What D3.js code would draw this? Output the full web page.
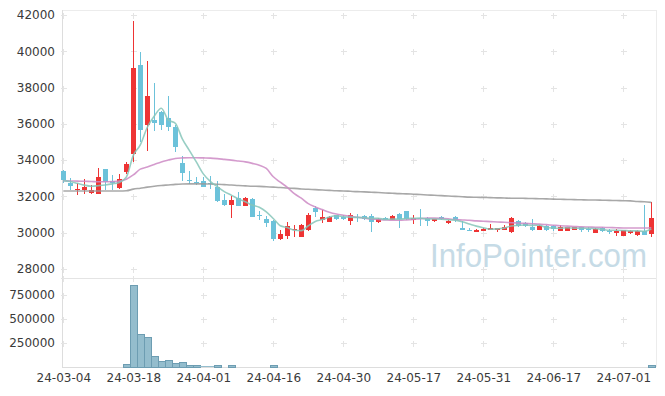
<!DOCTYPE html>
<html>
<head>
<meta charset="utf-8">
<script src="https://cdn.jsdelivr.net/npm/d3@7"></script>
<style>
  body { margin: 0; background: #fff; }
  text { font-family: "DejaVu Sans", sans-serif; }
</style>
</head>
<body>
<svg id="chart"></svg>
<script>
// trading days (KRX), 24-03-04 .. 24-07-05
const dates = [
  '24-03-04','24-03-05','24-03-06','24-03-07','24-03-08','24-03-11','24-03-12','24-03-13','24-03-14','24-03-15',
  '24-03-18','24-03-19','24-03-20','24-03-21','24-03-22','24-03-25','24-03-26','24-03-27','24-03-28','24-03-29',
  '24-04-01','24-04-02','24-04-03','24-04-04','24-04-05','24-04-08','24-04-09','24-04-11','24-04-12','24-04-15',
  '24-04-16','24-04-17','24-04-18','24-04-19','24-04-22','24-04-23','24-04-24','24-04-25','24-04-26','24-04-29',
  '24-04-30','24-05-02','24-05-03','24-05-07','24-05-08','24-05-09','24-05-10','24-05-13','24-05-14','24-05-16',
  '24-05-17','24-05-20','24-05-21','24-05-22','24-05-23','24-05-24','24-05-27','24-05-28','24-05-29','24-05-30',
  '24-05-31','24-06-03','24-06-04','24-06-05','24-06-07','24-06-10','24-06-11','24-06-12','24-06-13','24-06-14',
  '24-06-17','24-06-18','24-06-19','24-06-20','24-06-21','24-06-24','24-06-25','24-06-26','24-06-27','24-06-28',
  '24-07-01','24-07-02','24-07-03','24-07-04','24-07-05'
];

const openP = [
  33400,32760,32330,32370,32200,32150,33490,32870,32480,33330,
  34320,39240,35920,36210,36650,36300,35830,33860,32920,32800,
  32870,32750,32530,31800,31540,31890,31490,31840,31000,30750,
  30640,29650,29830,30150,29780,30150,31340,30720,30610,30990,
  30860,30630,30880,30900,30900,30570,30820,30710,31030,31200,
  30680,30800,30790,30660,30880,30550,30850,30270,30160,30050,
  30110,30150,30140,30150,30020,30640,30510,30290,30150,30380,
  30380,30090,30090,30170,30290,30220,30000,30270,30070,30000,
  29830,29960,29890,30110,29910
];
const highP = [
  33450,33000,32750,32950,32600,33550,33500,33200,33220,33880,
  41650,39950,39450,38230,36700,37530,35950,34200,33400,33050,
  33050,33100,32870,32120,32040,32230,31950,31900,31170,30920,
  30700,30150,30570,30420,30450,31080,31470,31250,30900,31000,
  30950,31070,31020,31000,31030,30800,30850,30980,31080,31200,
  30970,31290,30850,30780,30920,30700,30900,30640,30240,30180,
  30250,30460,30280,30400,30880,30700,30560,30750,30420,30400,
  30420,30400,30300,30300,30330,30300,30230,30300,30200,30220,
  30170,30150,30150,31530,31710
];
const lowP = [
  32750,32350,32080,32120,32080,32100,32350,32380,32380,33220,
  33900,35000,34500,35600,35650,35620,34460,32800,32660,32600,
  32510,32400,31700,31480,30850,31480,31430,30880,30700,30300,
  29560,29600,29650,29750,29750,30100,30880,30550,30580,30750,
  30700,30420,30600,30700,30050,30530,30680,30680,30280,30720,
  30460,30330,30330,30600,30700,30460,30580,30150,30060,30020,
  30080,30130,30050,30130,30000,30300,30300,30100,30130,30050,
  30100,30060,30060,30140,30050,30050,29980,30050,29910,29850,
  29820,29940,29800,29850,29780
];
const closeP = [
  32900,32590,32420,32520,32350,33060,32780,32720,32950,33790,
  39080,35680,37530,36060,35960,35840,34740,33270,32880,32760,
  32540,32700,31770,31540,31800,31490,31890,30880,30950,30520,
  29640,29930,30370,30190,30420,30970,31150,30880,30860,30770,
  30740,30990,30840,30780,30570,30770,30710,30900,30770,30770,
  30800,30770,30640,30750,30740,30660,30680,30160,30140,30170,
  30220,30270,30260,30330,30790,30360,30370,30150,30380,30150,
  30220,30290,30290,30290,30130,30190,30200,30110,30040,30110,
  30150,30110,30110,29870,30830
];
const volume = [
  800,600,900,700,500,5000,1200,4500,1500,23000,
  844000,337000,306000,110000,58000,68000,37000,47000,16000,16000,
  6000,6000,15000,4000,15000,4000,4000,4000,4000,4000,
  12000,900,1100,800,700,900,1000,600,800,700,
  900,800,600,700,1000,800,700,900,600,800,
  700,900,800,600,700,800,900,5000,700,800,
  600,900,700,800,1000,700,800,600,900,700,
  800,700,900,600,800,700,900,800,700,600,
  900,800,700,1000,12000
];

// moving averages
const ma5 = [
  32870,32820,32720,32620,32560,32590,32630,32690,32770,33060,
  34260,34840,35810,36430,36860,36210,36030,35170,34540,33900,
  33240,32830,32530,32260,32070,31860,31700,31520,31400,31150,
  30780,30380,30280,30130,30110,30380,30620,30720,30860,30930,
  30880,30850,30840,30820,30780,30790,30730,30750,30740,30780,
  30790,30800,30750,30750,30740,30710,30690,30600,30480,30360,
  30270,30190,30210,30250,30370,30400,30420,30400,30410,30280,
  30250,30240,30270,30250,30240,30240,30220,30180,30130,30130,
  30120,30100,30100,30070,30210
];
const ma20 = [
  32860,32850,32840,32830,32820,32810,32810,32820,32840,32950,
  33180,33500,33620,33760,33900,34000,34090,34120,34130,34130,
  34120,34110,34080,34040,34000,33950,33900,33820,33720,33540,
  33080,32780,32500,32150,31900,31600,31420,31270,31130,31030,
  30960,30900,30850,30800,30760,30730,30700,30680,30680,30700,
  30730,30770,30800,30800,30790,30760,30720,30700,30680,30650,
  30630,30610,30590,30570,30550,30530,30510,30490,30470,30440,
  30410,30380,30360,30340,30320,30310,30300,30290,30280,30270,
  30260,30260,30260,30260,30270
];
const ma60 = [
  32300,32300,32300,32300,32300,32300,32300,32300,32300,32310,
  32400,32450,32510,32560,32600,32630,32660,32680,32690,32690,
  32690,32680,32670,32650,32630,32600,32580,32560,32550,32530,
  32510,32490,32460,32440,32410,32390,32370,32350,32330,32310,
  32300,32280,32260,32250,32230,32210,32190,32170,32150,32140,
  32120,32100,32080,32060,32040,32020,32000,31980,31960,31950,
  31940,31930,31920,31910,31900,31900,31890,31880,31870,31860,
  31850,31840,31830,31820,31810,31800,31800,31790,31780,31770,
  31760,31750,31720,31700,31670
];

const priceTicks = [28000, 30000, 32000, 34000, 36000, 38000, 40000, 42000];
const volumeTicks = [250000, 500000, 750000];
const dateTicks = ['24-03-04','24-03-18','24-04-01','24-04-16','24-04-30','24-05-17','24-05-31','24-06-17','24-07-01'];

const UP = '#ee3434';
const DOWN = '#6cc2da';
const GRID = '#e4e4e4';

const box = {left: 62, right: 656, top: 10, split: 278, bottom: 367};

const svg = d3.select('#chart')
  .attr('width', 665)
  .attr('height', 396);

const x = d3.scalePoint()
  .domain(dates)
  .range([63.3, 651.3]);

const yPrice = d3.scaleLinear()
  .domain([27500, 42275])
  .range([box.split, box.top]);

const yVol = d3.scaleLinear()
  .domain([0, 925000])
  .range([box.bottom, box.split]);

const px = d => Math.round(x(d));

// frame
const frame = svg.append('g').attr('fill', 'none').attr('shape-rendering', 'crispEdges');
frame.append('line').attr('x1', box.left).attr('x2', box.right).attr('y1', box.top + 0.5).attr('y2', box.top + 0.5).attr('stroke', '#ececec');
frame.append('line').attr('x1', box.right + 0.5).attr('x2', box.right + 0.5).attr('y1', box.top).attr('y2', box.bottom).attr('stroke', '#ececec');
frame.append('line').attr('x1', box.left).attr('x2', box.right).attr('y1', box.split + 0.5).attr('y2', box.split + 0.5).attr('stroke', '#e4e4e4');
frame.append('line').attr('x1', box.left).attr('x2', box.right).attr('y1', box.bottom + 0.5).attr('y2', box.bottom + 0.5).attr('stroke', '#dddddd');
frame.append('line').attr('x1', box.left + 0.5).attr('x2', box.left + 0.5).attr('y1', box.top).attr('y2', box.bottom).attr('stroke', '#dddddd');

// grid crosses
const crossY = priceTicks.map(v => yPrice(v))
  .concat([box.split])
  .concat(volumeTicks.map(v => yVol(v)));
const crossPath = [];
dateTicks.forEach(d => {
  const cx = px(d) + 0.5;
  crossY.forEach(cy => {
    const yy = Math.round(cy) + 0.5;
    crossPath.push(`M${cx - 3},${yy}H${cx + 3}M${cx},${yy - 3}V${yy + 3}`);
  });
});
svg.append('path')
  .attr('d', crossPath.join(''))
  .attr('stroke', GRID)
  .attr('fill', 'none')
  .attr('shape-rendering', 'crispEdges');

// watermark
svg.append('text')
  .attr('x', 430)
  .attr('y', 267)
  .attr('fill', '#c6dbe6')
  .style('font-family', '"Liberation Sans", Arial, sans-serif')
  .style('font-size', '34px')
  .attr('textLength', 217)
  .attr('lengthAdjust', 'spacingAndGlyphs')
  .text('InfoPointer.com');

// candles
const idx = d3.range(dates.length);
const candles = svg.append('g').attr('shape-rendering', 'crispEdges');
const colorOf = i => closeP[i] >= openP[i] ? UP : DOWN;

candles.selectAll('.wick')
  .data(idx)
  .join('rect')
  .attr('class', 'wick')
  .attr('x', i => px(dates[i]))
  .attr('width', 1)
  .attr('y', i => Math.round(yPrice(highP[i])))
  .attr('height', i => Math.max(1, Math.round(yPrice(lowP[i]) - yPrice(highP[i]))))
  .attr('fill', colorOf);

candles.selectAll('.body')
  .data(idx)
  .join('rect')
  .attr('class', 'body')
  .attr('x', i => px(dates[i]) - 2)
  .attr('width', 5)
  .attr('y', i => yPrice(Math.max(openP[i], closeP[i])))
  .attr('height', i => Math.max(1, yPrice(Math.min(openP[i], closeP[i])) - yPrice(Math.max(openP[i], closeP[i]))))
  .attr('fill', colorOf);

// moving averages
const maLine = d3.line()
  .x((d, i) => x(dates[i]))
  .y(d => yPrice(d))
  .curve(d3.curveMonotoneX);

[[ma60, '#999999'], [ma20, '#cc8ac4'], [ma5, '#86c6ba']].forEach(([s, c]) => {
  svg.append('path')
    .attr('d', maLine(s))
    .attr('fill', 'none')
    .attr('stroke', c)
    .attr('stroke-width', 1.6)
    .attr('stroke-opacity', 0.85);
});

// volume bars
svg.append('g')
  .attr('shape-rendering', 'crispEdges')
  .selectAll('rect')
  .data(idx)
  .join('rect')
  .attr('x', i => px(dates[i]) - 3)
  .attr('width', 7)
  .attr('y', i => yVol(volume[i]))
  .attr('height', i => yVol(0) - yVol(volume[i]))
  .attr('fill', '#94bdcd')
  .attr('stroke', i => (yVol(0) - yVol(volume[i])) > 1 ? '#6d9db2' : 'none')
  .attr('stroke-width', 1);

// axes
const priceAxis = svg.append('g')
  .attr('transform', `translate(${box.left},0)`)
  .call(d3.axisLeft(yPrice).tickValues(priceTicks).tickSize(0).tickPadding(7).tickFormat(d3.format('d')));
const volAxis = svg.append('g')
  .attr('transform', `translate(${box.left},0)`)
  .call(d3.axisLeft(yVol).tickValues(volumeTicks).tickSize(0).tickPadding(7).tickFormat(d3.format('d')));
const dateAxis = svg.append('g')
  .attr('transform', `translate(0,${box.bottom})`)
  .call(d3.axisBottom(x).tickValues(dateTicks).tickSize(0).tickPadding(6));

[priceAxis, volAxis, dateAxis].forEach(g => {
  g.select('.domain').remove();
  g.selectAll('text')
    .attr('fill', '#3a3a3a')
    .style('font-size', '12px')
    .style('font-family', '"DejaVu Sans", sans-serif');
});
</script>
</body>
</html>
